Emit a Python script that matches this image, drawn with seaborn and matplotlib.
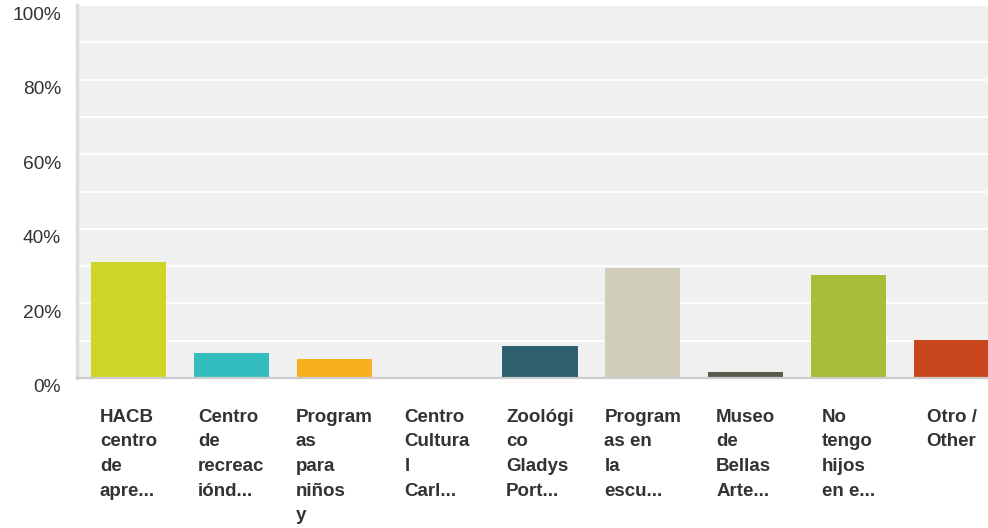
import matplotlib
matplotlib.use("Agg")
import matplotlib.pyplot as plt
import matplotlib.transforms as mtransforms
import seaborn as sns
from matplotlib.ticker import FuncFormatter

# data
categories = [
    "HACB\ncentro\nde\napre...",
    "Centro\nde\nrecreac\niónd...",
    "Program\nas\npara\nniños\ny",
    "Centro\nCultura\nl\nCarl...",
    "Zoológi\nco\nGladys\nPort...",
    "Program\nas en\nla\nescu...",
    "Museo\nde\nBellas\nArte...",
    "No\ntengo\nhijos\nen e...",
    "Otro /\nOther",
]
percent = [31.1, 6.7, 5.1, 0.0, 8.6, 29.5, 1.6, 27.6, 10.2]
bar_colors = ["#cfd528", "#33bdbf", "#f8b021", "#8a8a8a", "#2d5f6d",
              "#d0cdbd", "#5b5a4b", "#a9bd38", "#c8461b"]
y_ticks = [0, 20, 40, 60, 80, 100]

sns.set_style("white")
plt.rcParams["font.family"] = ["Liberation Sans", "DejaVu Sans"]

fig = plt.figure(figsize=(9.88, 5.28), dpi=100)
ax = fig.add_axes([77 / 988, 150 / 528, 926 / 988, 373 / 528])
ax.set_facecolor("#f0f0f0")

sns.barplot(x=categories, y=percent, hue=categories, palette=bar_colors,
            legend=False, width=0.73, saturation=1, linewidth=0, ax=ax)

ax.set_xlim(-0.5, 8.5)
ax.set_ylim(0, 100)
ax.set_axisbelow(True)
ax.set_yticks(y_ticks)
ax.set_yticks(range(0, 101, 10), minor=True)
ax.yaxis.grid(True, which="both", color="white", linewidth=1.2)
ax.yaxis.set_major_formatter(FuncFormatter(lambda v, p: f"{int(v)}%"))

for s in ["top", "right"]:
    ax.spines[s].set_visible(False)
ax.spines["left"].set_color("#dcdcdc")
ax.spines["left"].set_linewidth(2.4)
ax.spines["bottom"].set_color("#cccccc")
ax.spines["bottom"].set_linewidth(1.6)

ax.tick_params(axis="y", which="both", length=0, pad=11.5, labelsize=13.8,
               labelcolor="#333333")
ax.tick_params(axis="x", length=0, pad=22, labelsize=13.5, labelcolor="#333333")

# tick labels sit a little below their grid lines in the reference
offset = mtransforms.ScaledTranslation(0, -0.08, fig.dpi_scale_trans)
for lab in ax.get_yticklabels():
    lab.set_transform(lab.get_transform() + offset)

for lab in ax.get_xticklabels():
    lab.set_fontweight("bold")
    lab.set_multialignment("left")
    lab.set_linespacing(1.59)

ax.set_xlabel("")
ax.set_ylabel("")

fig.savefig("out.png", dpi=100)
